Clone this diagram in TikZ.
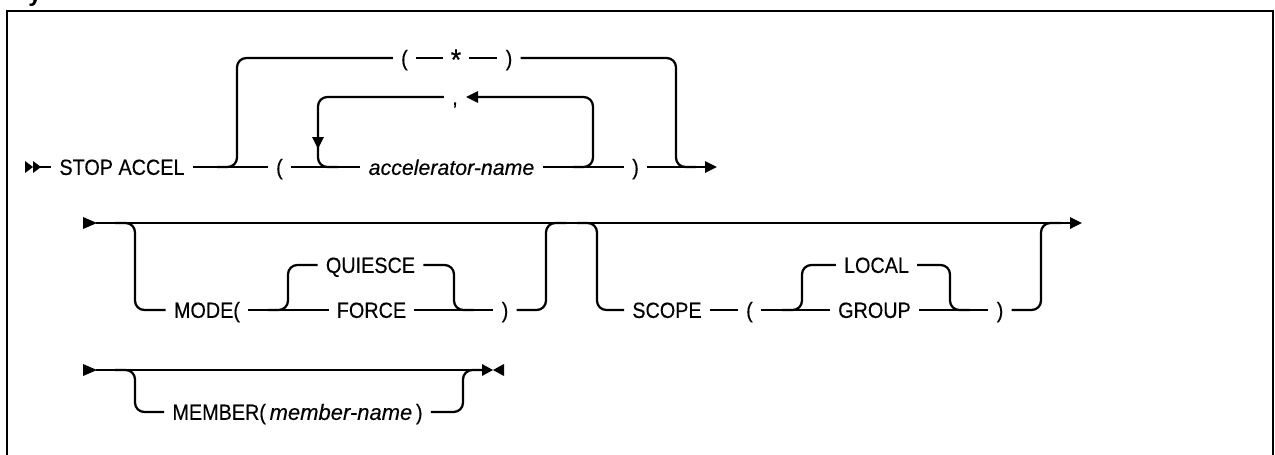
\documentclass[tikz,border=0pt]{standalone}
\usepackage{fontspec}
\setmainfont{Liberation Sans}
\newfontfamily\railfont[FakeBold=0.3, FakeStretch=0.9]{Liberation Sans}
\newfontfamily\railwide[FakeBold=0.3]{Liberation Sans}
\usetikzlibrary{arrows.meta}
\begin{document}
\begin{tikzpicture}[x=0.75pt,y=-0.75pt,
  rail/.style={line width=1.7pt, rounded corners=7pt},
  txt/.style={inner xsep=6pt, inner ysep=0pt, text height=11.8pt, text depth=0pt, font=\railfont\fontsize{16.5}{19}\selectfont},
  itx/.style={txt, font=\railwide\fontsize{16}{19}\selectfont\itshape},
  tip/.style={-{Triangle[length=9pt,width=8.5pt]}},
  frame/.style={line width=2pt}
]
\useasboundingbox (0,0) rectangle (1275,454);
% cut-off heading
\node[anchor=base west, inner sep=0pt, font=\fontsize{18}{20}\selectfont\bfseries] (hd) at (28,1) {y};
% frame
\draw[frame] (7,470) -- (7,11) -- (1273,11) -- (1273,470);

% ---------------- Row 1 ----------------
\fill (25,161) -- (33,167) -- (25,173) -- cycle;
\fill (33,161) -- (41,167) -- (33,173) -- cycle;
\coordinate (s1) at (40,167);
\node[txt] (stop) at (122,167) {STOP ACCEL};
\node[txt] (lp1) at (279.5,167) {(};
\node[itx] (acc) at (451.5,167) {accelerator-name};
\node[txt] (rp1) at (635.5,167) {)};
\coordinate (e1) at (717,167);
\node[txt] (tl) at (404.5,58) {(};
\node[txt] (star) at (456,58) {\raisebox{-3pt}{\scalebox{1.35}{*}}};
\node[txt] (tr) at (509,58) {)};
\node[txt] (comma) at (455,97) {,};
\coordinate (u1a) at (217,167);
\coordinate (u1b) at (696,167);
\coordinate (l1a) at (338,167);
\coordinate (l1b) at (573,167);

\draw[rail] (s1) -- (stop.west);
\draw[rail] (stop.east) -- (lp1.west);
\draw[rail] (lp1.east) -- (acc.west);
\draw[rail] (acc.east) -- (rp1.west);
\draw[rail,tip] (rp1.east) -- (e1);
\draw[rail] (u1a) -- (237,167) -- (237,58) -- (tl.west);
\draw[rail] (tl.east) -- (star.west);
\draw[rail] (star.east) -- (tr.west);
\draw[rail] (tr.east) -- (676,58) -- (676,167) -- (u1b);
% repetition loop
\draw[rail,tip] (l1b) -- (593,167) -- (593,97) -- (comma.east);
\draw[rail,tip] (comma.west) -- (318,97) -- (318,149);
\draw[rail] (318,140) -- (318,167) -- (l1a);

% ---------------- Row 2 ----------------
\fill (83,217) -- (97,223) -- (83,229) -- cycle;
\coordinate (s2) at (96,223);
\coordinate (e2) at (1082,223);
\draw[rail,tip] (s2) -- (e2);
% MODE group
\node[txt] (mode) at (207,310) {MODE(};
\node[txt] (quiesce) at (370.5,265) {QUIESCE};
\node[txt] (force) at (371.5,310) {FORCE};
\node[txt] (rp2) at (505,310) {)};
\coordinate (m1a) at (115,223);
\coordinate (m1b) at (566,223);
\coordinate (q1a) at (268,310);
\coordinate (q1b) at (474,310);
\draw[rail] (m1a) -- (135,223) -- (135,310) -- (mode.west);
\draw[rail] (mode.east) -- (force.west);
\draw[rail] (force.east) -- (rp2.west);
\draw[rail] (rp2.east) -- (546,310) -- (546,223) -- (m1b);
\draw[rail] (q1a) -- (288,310) -- (288,265) -- (quiesce.west);
\draw[rail] (quiesce.east) -- (454,265) -- (454,310) -- (q1b);
% SCOPE group
\node[txt] (scope) at (667,310) {SCOPE};
\node[txt] (lp3) at (749.5,310) {(};
\node[txt] (local) at (876.5,265) {LOCAL};
\node[txt] (group) at (874.5,310) {GROUP};
\node[txt] (rp3) at (1000,310) {)};
\coordinate (c1a) at (577,223);
\coordinate (c1b) at (1061,223);
\coordinate (g1a) at (782,310);
\coordinate (g1b) at (970,310);
\draw[rail] (c1a) -- (597,223) -- (597,310) -- (scope.west);
\draw[rail] (scope.east) -- (lp3.west);
\draw[rail] (lp3.east) -- (group.west);
\draw[rail] (group.east) -- (rp3.west);
\draw[rail] (rp3.east) -- (1041,310) -- (1041,223) -- (c1b);
\draw[rail] (g1a) -- (802,310) -- (802,265) -- (local.west);
\draw[rail] (local.east) -- (950,265) -- (950,310) -- (g1b);

% ---------------- Row 3 ----------------
\fill (83,364) -- (97,370) -- (83,376) -- cycle;
\fill (482,364) -- (493,370) -- (482,376) -- cycle;
\fill (504,364) -- (493,370) -- (504,376) -- cycle;
\coordinate (s3) at (96,370);
\coordinate (e3) at (483,370);
\draw[rail] (s3) -- (e3);
\node[txt] (member) at (297.5,412) {MEMBER(\,{\railwide\itshape member-name}\,)};
\coordinate (k1a) at (115,370);
\coordinate (k1b) at (483,370);
\draw[rail] (k1a) -- (135,370) -- (135,412) -- (member.west);
\draw[rail] (member.east) -- (463,412) -- (463,370) -- (k1b);
\end{tikzpicture}
\end{document}
